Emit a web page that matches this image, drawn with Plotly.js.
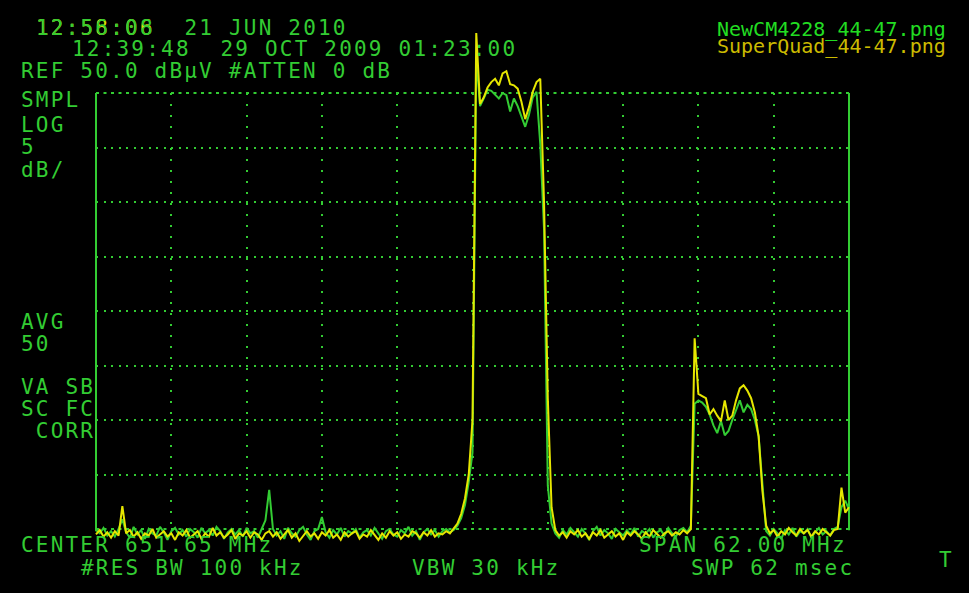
<!DOCTYPE html>
<html><head><meta charset="utf-8">
<script src="https://cdn.plot.ly/plotly-3.0.1.min.js"></script>
<style>
html,body{margin:0;padding:0;background:#000;}
#chart{width:969px;height:593px;}
.annotation-text{letter-spacing:2.2px;}
.annotation[data-index="0"] .annotation-text,.annotation[data-index="1"] .annotation-text{letter-spacing:0;}
</style></head><body><div id="chart"></div>
<script>
const centerMHz = 651.65;
const spanMHz = 62.0;
const refLevel = 50.0;      // dBµV, top graticule
const dbPerDiv = 5;
const nDivY = 8;
const nDivX = 10;
const nPoints = 201;
const greenName = 'NewCM4228_44-47.png';
const yellowName = 'SuperQuad_44-47.png';

// level in dBµV, one value per sweep point (left to right)
const greenLevel = [
 9.9,9.6,10.1,9.4,9.8,9.3,10.0,10.9,9.7,9.2,
 10.2,9.5,9.9,9.1,10.0,9.6,9.4,10.2,9.7,9.0,
 9.8,10.1,9.5,9.9,9.3,10.0,9.7,9.2,10.1,9.6,
 9.9,9.4,10.2,9.8,9.1,9.7,10.0,9.5,9.9,9.3,
 10.1,9.6,9.8,9.2,10.0,10.8,13.6,10.0,9.4,9.8,
 9.1,10.1,9.6,9.3,9.9,10.2,9.5,9.0,9.8,10.0,
 11.1,9.7,9.2,9.9,9.5,10.1,9.3,9.8,9.6,10.0,
 9.2,9.7,9.9,9.4,10.1,9.6,9.1,9.8,10.0,9.5,
 9.3,9.9,9.6,10.2,9.4,9.8,9.0,9.7,10.0,9.5,
 9.9,9.3,9.8,10.0,9.7,9.9,10.3,11.0,12.2,14.3,
 17.0,53.3,48.8,49.5,50.3,50.2,49.8,49.5,50.0,49.8,
 48.3,49.5,48.8,47.9,46.9,48.0,49.6,50.1,45.3,37.5,
 14.0,10.5,9.6,9.2,9.9,9.5,10.1,9.7,9.3,10.0,
 9.6,9.0,9.8,10.2,9.4,9.9,9.6,9.1,10.0,9.7,
 9.4,9.9,9.5,10.1,9.3,9.8,9.6,10.0,9.2,9.7,
 9.9,9.4,10.1,9.6,9.3,9.9,10.1,9.7,10.3,21.5,
 21.8,21.6,21.2,20.5,19.5,18.8,19.9,18.6,19.0,20.0,
 21.0,21.8,20.7,21.4,21.0,20.0,18.5,14.0,9.8,9.4,
 10.0,9.6,9.1,9.9,9.5,10.1,9.3,9.8,9.6,10.0,
 9.2,9.7,10.1,9.5,9.8,9.4,10.0,10.2,12.0,12.6,
 11.8
];
const yellowLevel = [
 9.5,9.9,9.3,9.7,9.2,9.8,9.4,12.1,9.6,9.9,
 9.3,9.7,9.1,9.6,9.4,10.0,9.2,9.5,9.8,9.3,
 9.6,9.0,9.7,9.4,9.9,9.2,9.5,9.8,9.1,9.6,
 9.3,10.1,9.4,9.7,9.2,9.5,9.9,9.1,9.6,9.4,
 9.8,9.2,9.7,9.5,9.0,9.6,9.8,9.3,9.7,9.1,
 9.5,9.9,9.2,9.6,8.9,9.4,9.8,9.3,9.6,9.1,
 9.7,9.4,9.9,9.2,9.5,9.0,9.7,9.3,9.6,9.8,
 9.1,9.5,9.3,9.9,9.4,9.0,9.6,9.2,9.8,9.4,
 9.7,9.1,9.5,9.3,9.8,9.6,9.2,9.7,9.4,9.9,
 9.3,9.6,9.5,9.8,9.6,10.0,10.5,11.4,12.8,15.0,
 20.0,55.5,49.0,49.6,50.5,51.0,51.3,50.7,51.8,52.0,
 50.8,50.7,50.4,49.2,47.6,48.7,50.1,51.0,51.3,40.0,
 22.0,12.0,9.9,9.4,9.7,9.2,9.8,9.5,9.9,9.3,
 9.6,9.1,9.7,9.4,9.9,9.2,9.5,9.8,9.3,9.6,
 9.0,9.7,9.4,9.8,9.5,9.1,9.7,9.3,9.9,9.5,
 9.2,9.6,9.8,9.4,9.7,9.5,9.9,9.6,10.0,27.5,
 22.4,22.2,22.0,20.5,21.0,20.4,19.9,21.8,20.0,20.4,
 21.8,22.9,23.2,22.7,22.0,20.7,18.5,13.5,10.3,9.6,
 9.9,9.3,9.8,9.5,10.1,9.7,9.4,10.0,9.6,9.9,
 9.3,9.8,9.5,10.0,9.7,9.4,9.9,10.0,13.8,11.5,
 12.0
];

// ---- sweep frequency grid (from CENTER / SPAN) ----
const fStart = centerMHz - spanMHz / 2;
const fStop = centerMHz + spanMHz / 2;
const freq = [];
for (let i = 0; i < nPoints; i++) freq.push(fStart + i * (fStop - fStart) / (nPoints - 1));
const bottomLevel = refLevel - dbPerDiv * nDivY;

// ---- layout geometry ----
const W = 969, H = 593;
const boxL = 96, boxR = 849, boxT = 93, boxB = 529;
const pxPerMHz = (boxR - boxL) / spanMHz;
const pxPerDb = (boxB - boxT) / (refLevel - bottomLevel);
const xFull = [fStart - boxL / pxPerMHz, fStop + (W - boxR) / pxPerMHz];
const yFull = [bottomLevel - (H - boxB) / pxPerDb, refLevel + boxT / pxPerDb];

const GREEN = '#33cc33', YELLOW = '#e6e600';
const xGrid = [], yGrid = [];
for (let k = 0; k <= nDivX; k++) xGrid.push(fStart + k * spanMHz / nDivX);
for (let k = 0; k <= nDivY; k++) yGrid.push(bottomLevel + k * dbPerDiv);

const traces = [
  {x: [], y: [], xaxis: 'x', yaxis: 'y', showlegend: false, hoverinfo: 'skip'},
  {x: freq, y: greenLevel, name: greenName, xaxis: 'x2', yaxis: 'y2', mode: 'lines',
   line: {color: GREEN, width: 2}, showlegend: false},
  {x: freq, y: yellowLevel, name: yellowName, xaxis: 'x2', yaxis: 'y2', mode: 'lines',
   line: {color: YELLOW, width: 2}, showlegend: false}
];

const MONO = 'DejaVu Sans Mono';
const screenFont = {family: MONO, size: 21, color: GREEN};
function ann(text, px, py, font) {
  return {text: text, x: px / W, y: 1 - py / H, xref: 'paper', yref: 'paper',
          xanchor: 'left', yanchor: 'middle', align: 'left', borderpad: 0,
          showarrow: false, font: font || screenFont};
}
const annotations = [
  ann(greenName, 716, 29, {family: MONO, size: 20, color: '#22dd22'}),
  ann(yellowName, 716, 46, {family: MONO, size: 20, color: '#ccbb00'}),
  ann('12:58:06', 35, 28, {family: MONO, size: 21, color: '#dddd00'}),
  ann('12:56:08  21 JUN 2010', 35, 28),
  ann('12:39:48  29 OCT 2009 01:23:00', 71, 49),
  ann('REF 50.0 dBµV #ATTEN 0 dB', 20, 71),
  ann('SMPL', 20, 100),
  ann('LOG', 20, 125),
  ann('5', 20, 147),
  ann('dB/', 20, 170),
  ann('AVG', 20, 322),
  ann('50', 20, 344),
  ann('VA SB', 20, 387),
  ann('SC FC', 20, 409),
  ann(' CORR', 20, 431),
  ann('CENTER 651.65 MHz', 20, 545),
  ann('SPAN 62.00 MHz', 638, 545),
  ann('#RES BW 100 kHz', 80, 568),
  ann('VBW 30 kHz', 411, 568),
  ann('SWP 62 msec', 690, 568),
  ann('T', 938, 560)
];

const frame = [
  {type: 'line', xref: 'x domain', yref: 'y domain', x0: 0, x1: 0, y0: -0.005, y1: 1, line: {color: GREEN, width: 2}, layer: 'below'},
  {type: 'line', xref: 'x domain', yref: 'y domain', x0: 1, x1: 1, y0: -0.003, y1: 1, line: {color: GREEN, width: 2}, layer: 'below'},
  {type: 'line', xref: 'x domain', yref: 'y domain', x0: 0, x1: 1, y0: 1, y1: 1, line: {color: GREEN, width: 2, dash: '3px,4.5px'}, layer: 'below'},
  {type: 'line', xref: 'x domain', yref: 'y domain', x0: 0, x1: 1, y0: 0, y1: 0, line: {color: GREEN, width: 2, dash: '3px,4.5px'}, layer: 'below'}
];

const layout = {
  width: W, height: H, autosize: false,
  margin: {l: 0, r: 0, t: 0, b: 0, pad: 0},
  paper_bgcolor: '#000', plot_bgcolor: 'rgba(0,0,0,0)',
  showlegend: false,
  xaxis: {domain: [boxL / W, boxR / W], range: [fStart, fStop], anchor: 'y',
          tickmode: 'array', tickvals: xGrid, showticklabels: false, ticks: '',
          showgrid: true, gridcolor: GREEN, gridwidth: 2, griddash: '2px,9px',
          zeroline: false, showline: false, fixedrange: true},
  yaxis: {domain: [1 - boxB / H, 1 - boxT / H], range: [bottomLevel, refLevel], anchor: 'x',
          tickmode: 'array', tickvals: yGrid, showticklabels: false, ticks: '',
          showgrid: true, gridcolor: GREEN, gridwidth: 2, griddash: '2px,5.5px',
          zeroline: false, showline: false, fixedrange: true},
  xaxis2: {domain: [0, 1], range: xFull, anchor: 'y2', visible: false, fixedrange: true},
  yaxis2: {domain: [0, 1], range: yFull, anchor: 'x2', visible: false, fixedrange: true},
  shapes: frame,
  annotations: annotations
};

Plotly.newPlot('chart', traces, layout, {staticPlot: true, displayModeBar: false});
</script></body></html>
